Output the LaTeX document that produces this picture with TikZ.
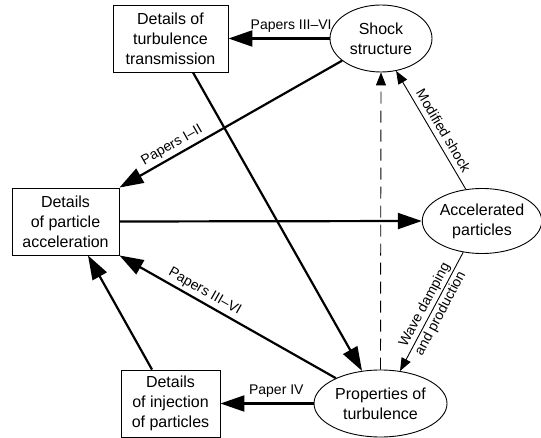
\documentclass[tikz,border=0pt]{standalone}
\usepackage{fontspec}
\setmainfont{Liberation Sans}
\usetikzlibrary{shapes.geometric,arrows.meta}

\tikzset{
  detbox/.style={draw, line width=0.9pt, rectangle, minimum height=67pt,
    inner sep=0pt, align=center, font=\fontsize{16}{20}\selectfont},
  topic/.style={draw, line width=0.9pt, ellipse, inner sep=0pt,
    align=center, font=\fontsize{16}{20}\selectfont},
  mainarr/.style={line width=2.2pt, -{Triangle[length=24pt,width=16pt]}},
  auxarr/.style={line width=0.9pt, -{Triangle[length=13pt,width=10pt]}},
  lbl/.style={font=\fontsize{14}{16}\selectfont, inner sep=1pt, sloped},
}

\begin{document}
\begin{tikzpicture}[x=1pt, y=-1pt]
    \useasboundingbox (0,0) rectangle (541,438);
    % boxes on the left
    \foreach \bname/\bx/\by/\bw/\btext in {
        trans/170.5/38.5/115/{Details of\\turbulence\\transmission},
        acc/65.5/221.5/107/{Details\\of particle\\acceleration},
        inj/170.5/403.5/99/{Details\\of injection\\of particles}} {
        \node[detbox, minimum width=\bw] (\bname) at (\bx,\by) {\btext};
    }
    % ellipses on the right
    \foreach \ename/\ex/\ey/\ew/\eh/\etext in {
        shock/381/38.5/102/67/{Shock\\structure},
        accpart/482/221/118/65/{Accelerated\\particles},
        props/380.5/403.5/133/67/{Properties of\\turbulence}} {
        \node[topic, minimum width=\ew, minimum height=\eh] (\ename) at (\ex,\ey) {\etext};
    }
    \draw[mainarr] (shock.west) -- (trans.east)
        node[lbl, pos=0.38, above=4pt] {Papers III--VI};
    \draw[mainarr] (shock) -- (acc.north east)
        node[lbl, pos=0.74, above=2pt] {Papers I--II};
    \draw[mainarr] (acc.east) -- (accpart.west);
    \draw[mainarr] ([xshift=22.5pt]trans.south) -- (props);
    \draw[mainarr] (props) -- (acc.south east)
        node[lbl, pos=0.63, above=2pt] {Papers III--VI};
    \draw[mainarr] ([xshift=-18.5pt]inj.north) -- ([xshift=22.5pt]acc.south);
    \draw[mainarr] (props.west) -- (inj.east)
        node[lbl, pos=0.4, above=4pt] {Paper IV};
    \draw[auxarr, dash pattern=on 12pt off 7pt] (props.north) -- (shock.south);
    \draw[auxarr] (accpart.117) -- (shock.-65)
        node[lbl, pos=0.45, above=4pt] {Modified shock};
    \draw[auxarr] (accpart.-121) -- (props.59)
        node[lbl, pos=0.48, above=1pt, fill=white] {Wave damping}
        node[lbl, pos=0.48, below=1pt, fill=white] {and production};
\end{tikzpicture}
\end{document}
